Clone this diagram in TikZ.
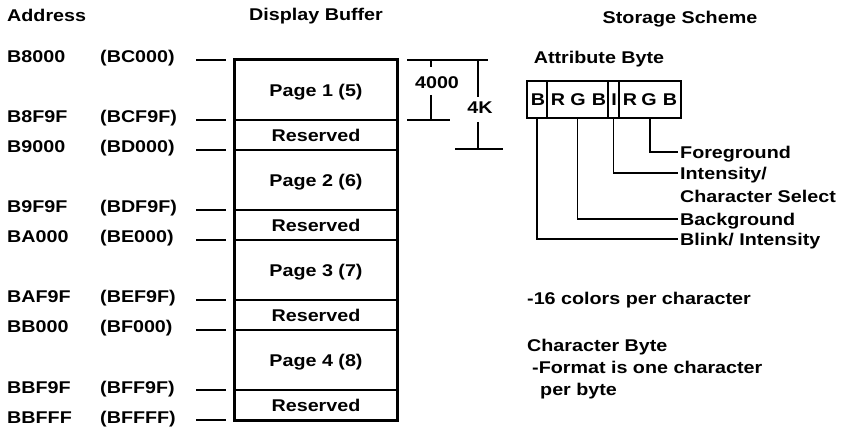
\documentclass[tikz,border=0pt]{standalone}
\usepackage{fontspec}
\setmainfont[FakeStretch=1.16]{Liberation Sans}
\newcommand{\dfont}{\fontsize{17}{20}\selectfont\bfseries}
\begin{document}
\begin{tikzpicture}[x=1pt,y=-1pt,
  txt/.style={inner sep=0pt, font=\dfont, anchor=base west},
  ctxt/.style={inner sep=0pt, font=\dfont, anchor=base},
  cell/.style={draw, line width=1.4pt, minimum width=162pt, inner sep=0pt,
    text height=12.2pt, text depth=0pt, font=\dfont},
  field/.style={draw, line width=1.2pt, minimum height=37pt, inner sep=0pt},
  lbl/.style={inner sep=0pt, inner xsep=2pt, anchor=west, font=\dfont,
    text height=12.2pt, text depth=0pt},
  tick/.style={line width=1.3pt},
  dim/.style={line width=1.2pt},
  lead/.style={line width=1.1pt}]
\useasboundingbox (0,0) rectangle (848,435);

% headers
\node[txt] (hAddr) at (7,21.5) {Address};
\node[ctxt] (hDisp) at (316,21) {Display Buffer};
\node[ctxt] (hStor) at (680,24) {Storage Scheme};

% display buffer cells
\node[cell, minimum height=60pt] (p1) at (316,90) {Page 1 (5)};
\node[cell, minimum height=30pt] (r1) at (316,135) {Reserved};
\node[cell, minimum height=60pt] (p2) at (316,180) {Page 2 (6)};
\node[cell, minimum height=30pt] (r2) at (316,225) {Reserved};
\node[cell, minimum height=60pt] (p3) at (316,270) {Page 3 (7)};
\node[cell, minimum height=30pt] (r3) at (316,315) {Reserved};
\node[cell, minimum height=60pt] (p4) at (316,360) {Page 4 (8)};
\node[cell, minimum height=30pt] (r4) at (316,405) {Reserved};
\draw[line width=2.2pt] (p1.north west) rectangle (r4.south east);

% address ticks and labels
\foreach \y/\a/\b/\n in {60/B8000/BC000/1, 120/B8F9F/BCF9F/2, 150/B9000/BD000/3,
    210/B9F9F/BDF9F/4, 240/BA000/BE000/5, 300/BAF9F/BEF9F/6, 330/BB000/BF000/7,
    390/BBF9F/BFF9F/8, 420/BBFFF/BFFFF/9} {
  \coordinate (ta\n) at (196,\y);
  \coordinate (tb\n) at (226,\y);
  \draw[tick] (ta\n) -- (tb\n);
  \node[txt] (addr\n) at (7,\y+3) {\a};
  \node[txt] (alt\n) at (100,\y+3) {(\b)};
}

% dimension 4000
\coordinate (d1a) at (407,60);
\coordinate (d1b) at (488,60);
\draw[dim] (d1a) -- (d1b);
\coordinate (d2a) at (407,120);
\coordinate (d2b) at (450,120);
\draw[dim] (d2a) -- (d2b);
\node[ctxt] (n4000) at (437,89) {4000};
\coordinate (v1a) at (431,60);
\coordinate (v1b) at (431,67);
\coordinate (v1c) at (431,95);
\coordinate (v1d) at (431,120);
\draw[dim] (v1a) -- (v1b);
\draw[dim] (v1c) -- (v1d);
% dimension 4K
\coordinate (d3a) at (455,149);
\coordinate (d3b) at (503,149);
\draw[dim] (d3a) -- (d3b);
\node[ctxt] (n4K) at (480,114) {4K};
\coordinate (v2a) at (478,60);
\coordinate (v2b) at (478,97);
\coordinate (v2c) at (478,122);
\coordinate (v2d) at (478,149);
\draw[dim] (v2a) -- (v2b);
\draw[dim] (v2c) -- (v2d);

% attribute byte
\node[ctxt] (hAttr) at (599,64) {Attribute Byte};
\node[field, minimum width=20pt] (fB) at (537,99.5) {};
\node[field, minimum width=61pt] (fBG) at (577.5,99.5) {};
\node[field, minimum width=11pt] (fI) at (613.5,99.5) {};
\node[field, minimum width=62pt] (fFG) at (650,99.5) {};
\foreach \x/\l/\n in {538/B/1, 558/R/2, 578/G/3, 599/B/4, 614/I/5, 630/R/6, 649/G/7, 670/B/8}
  \node[ctxt] (bit\n) at (\x,105.6) {\l};

% leader labels
\node[lbl] (lFG) at (678,152) {Foreground};
\node[lbl] (lI) at (678,173) {Intensity/};
\node[txt] (lCS) at (680,203) {Character Select};
\node[lbl] (lBG) at (678,219) {Background};
\node[lbl] (lBL) at (678,239) {Blink/ Intensity};
\draw[lead] (fFG.south) |- (lFG.west);
\draw[lead] (fI.south) |- (lI.west);
\draw[lead] (fBG.south) |- (lBG.west);
\draw[lead] (fB.south) |- (lBL.west);

% notes
\node[txt] (n16) at (527,305) {-16 colors per character};
\node[txt] (nCB) at (527,351.5) {Character Byte};
\node[txt] (nF1) at (532,373) {-Format is one character};
\node[txt] (nF2) at (540,395) {per byte};
\end{tikzpicture}
\end{document}
